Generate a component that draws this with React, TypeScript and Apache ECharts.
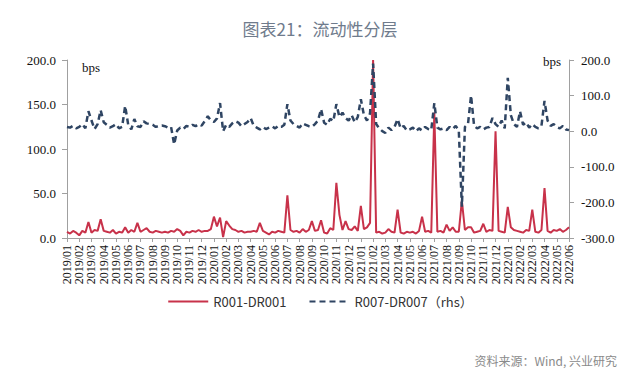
import React, { useEffect, useRef } from "react";
import * as echarts from "echarts";

const months = [
  "2019/01","2019/02","2019/03","2019/04","2019/05","2019/06","2019/07","2019/08","2019/09","2019/10","2019/11","2019/12",
  "2020/01","2020/02","2020/03","2020/04","2020/05","2020/06","2020/07","2020/08","2020/09","2020/10","2020/11","2020/12",
  "2021/01","2021/02","2021/03","2021/04","2021/05","2021/06","2021/07","2021/08","2021/09","2021/10","2021/11","2021/12",
  "2022/01","2022/02","2022/03","2022/04","2022/05","2022/06",
];

// R001-DR001, 4 readings per month, last value = 2022/06
const r001 = [
  7, 5, 8, 6,
  3, 8, 6, 18,
  6, 9, 8, 21,
  8, 7, 6, 9,
  5, 7, 6, 12,
  6, 9, 7, 17,
  7, 9, 11, 7,
  6, 8, 7, 6,
  7, 6, 8, 7,
  10, 8, 3, 7,
  6, 8, 7, 9,
  7, 8, 8, 10,
  24, 13, 23, 1,
  19, 14, 10, 9,
  7, 8, 6, 7,
  7, 8, 7, 17,
  8, 6, 4, 7,
  6, 8, 7, 6,
  48, 9, 7, 8,
  6, 10, 7, 9,
  19, 8, 9, 20,
  6, 5, 11, 9,
  62, 26, 9, 19,
  10, 9, 13, 8,
  36, 10, 12, 17,
  200, 6, 7, 5,
  6, 10, 7, 6,
  32, 6, 5, 7,
  6, 7, 5, 8,
  24, 7, 8, 6,
  141, 7, 8, 6,
  15, 8, 12, 7,
  7, 42, 9, 12,
  12, 6, 7, 8,
  16, 7, 9, 8,
  120, 8, 7, 6,
  35, 12, 9, 8,
  7, 6, 9, 8,
  32, 7, 6, 9,
  56, 8, 6, 9,
  8, 10, 7, 9,
  12,
];

// R007-DR007 (rhs)
const r007 = [
  12, 10, 15, 8,
  12, 20, 8, 56,
  30, 6, 20, 59,
  25, 18, 10, 14,
  20, 8, 12, 71,
  18, 5, 34, 14,
  12, 28, 22, 20,
  18, 12, 15, 16,
  14, 10, 12, -37,
  2, 10, 6, 15,
  12, 18, 14, 20,
  16, 28, 42, 30,
  26, 36, 79, 0,
  18, 12, 22, 28,
  24, 14, 20, 26,
  37, 15, 10, 5,
  12, 6, 10, 14,
  8, 15, 12, 18,
  76, 30, 20, 15,
  10, 22, 18, 14,
  12, 20, 30, 62,
  24, 18, 35, 28,
  76, 40, 52, 37,
  30, 45, 25, 40,
  90, 45, 30, 50,
  190, 20, 8, 0,
  -5, 10, 3, 12,
  34, 8, 15, 2,
  5, 10, 0, 8,
  2, 12, 6, 3,
  79, 10, 5, 8,
  3, 12, 6, 15,
  2, -212, 12, 20,
  100, 15, 8, 12,
  5, 10, 12, 37,
  20, 12, 30, 8,
  150, 45, 20, 12,
  56, 18, 25, 10,
  20, 12, 8, 15,
  85, 30, 15, 20,
  12, 8, 15, 5,
  3,
];

const PER_MONTH = 4;

export default function App() {
  const ref = useRef<HTMLDivElement>(null);
  useEffect(() => {
    if (!ref.current) return;
    const chart = echarts.init(ref.current, undefined, { renderer: "svg" });
    const cats: string[] = [];
    months.forEach((m, i) => {
      if (i < months.length - 1) {
        for (let k = 0; k < PER_MONTH; k++) cats.push(k === 0 ? m : m + "#" + k);
      } else cats.push(m);
    });
    const serif = "serif";
    const sans = "Noto Sans CJK SC";
    const showIdx = (i: number) => i % PER_MONTH === 0;
    chart.setOption({
      animation: false,
      backgroundColor: "#ffffff",
      textStyle: { fontFamily: serif },
      title: {
        text: "图表21：流动性分层",
        left: "center",
        top: 15,
        textStyle: { fontFamily: sans, fontSize: 17, fontWeight: "normal", color: "#6f7b8c" },
      },
      legend: {
        top: 290,
        left: "center",
        itemWidth: 40,
        itemHeight: 12,
        itemGap: 22,
        itemStyle: { opacity: 0 },
        textStyle: { fontFamily: sans, fontSize: 13, color: "#333" },
        data: ["R001-DR001", "R007-DR007（rhs）"],
      },
      grid: { left: 67, right: 71, top: 60, bottom: 145 },
      xAxis: {
        type: "category",
        data: cats,
        boundaryGap: false,
        axisLine: { lineStyle: { color: "#a0a0a0", width: 1 } },
        axisTick: { interval: (i: number) => showIdx(i), length: 4, lineStyle: { color: "#a0a0a0" } },
        axisLabel: {
          interval: (i: number) => showIdx(i),
          rotate: 90,
          fontFamily: serif,
          fontSize: 12,
          color: "#111",
          margin: 7,
          formatter: (v: string) => v.split("#")[0],
        },
        splitLine: { show: false },
      },
      yAxis: [
        {
          type: "value",
          min: 0,
          max: 200,
          interval: 50,
          axisLine: { show: true, lineStyle: { color: "#a0a0a0" } },
          axisTick: { show: true, length: 5, lineStyle: { color: "#a0a0a0" } },
          axisLabel: { fontFamily: serif, fontSize: 13, color: "#111", margin: 11, formatter: (v: number) => v.toFixed(1) },
          splitLine: { show: false },
        },
        {
          type: "value",
          min: -300,
          max: 200,
          interval: 100,
          position: "right",
          axisLine: { show: true, lineStyle: { color: "#a0a0a0" } },
          axisTick: { show: true, length: 5, lineStyle: { color: "#a0a0a0" } },
          axisLabel: { fontFamily: serif, fontSize: 13, color: "#111", margin: 12, formatter: (v: number) => v.toFixed(1) },
          splitLine: { show: false },
        },
      ],
      series: [
        {
          name: "R001-DR001",
          type: "line",
          data: r001,
          yAxisIndex: 0,
          symbol: "none",
          showSymbol: false,
          lineStyle: { color: "#c8324a", width: 2 },
          itemStyle: { color: "#c8324a" },
        },
        {
          name: "R007-DR007（rhs）",
          type: "line",
          data: r007,
          yAxisIndex: 1,
          symbol: "none",
          showSymbol: false,
          lineStyle: { color: "#2f4563", width: 2.5, type: [6, 4] },
          itemStyle: { color: "#2f4563" },
        },
      ],
      graphic: [
        { type: "text", left: 82, top: 61, style: { text: "bps", font: "13px serif", fill: "#111" } },
        { type: "text", left: 543, top: 55, style: { text: "bps", font: "13px serif", fill: "#111" } },
        {
          type: "text",
          right: 23,
          top: 354,
          style: { text: "资料来源：Wind, 兴业研究", font: "12px Noto Sans CJK SC", fill: "#8a8a8a" },
        },
      ],
    });
    return () => chart.dispose();
  }, []);
  return (
    <div
      ref={ref}
      style={{ position: "fixed", left: 0, top: 0, width: 640, height: 383, background: "#fff" }}
    />
  );
}
